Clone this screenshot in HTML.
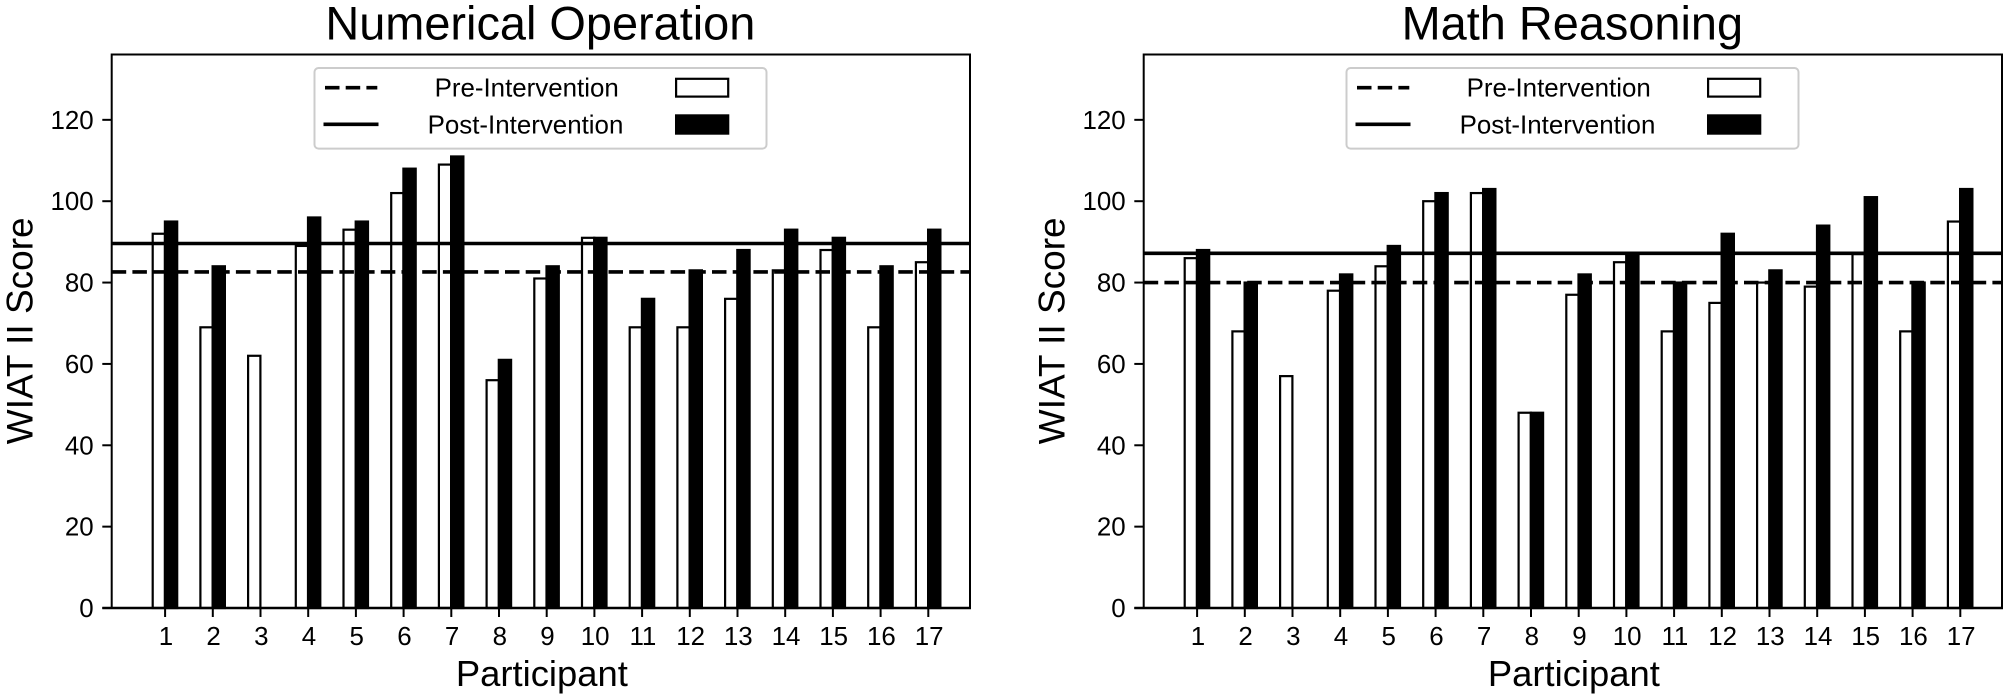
<!DOCTYPE html>
<html lang="en">
<head>
<meta charset="utf-8">
<title>WIAT II Scores: Numerical Operation and Math Reasoning</title>
<style>
html,body{margin:0;padding:0;background:#fff;}
body{width:2008px;height:698px;overflow:hidden;}
svg{display:block;}
text{font-family:"Liberation Sans",Arial,sans-serif;fill:#000;}
</style>
</head>
<body>
<svg id="chart" xmlns="http://www.w3.org/2000/svg" width="2008" height="698" viewBox="0 0 2008 698"></svg>
<script>
const categories = ["1","2","3","4","5","6","7","8","9","10","11","12","13","14","15","16","17"];
const yTickValues = [0,20,40,60,80,100,120];
const numericalPre = [92,69,62,89,93,102,109,56,81,91,69,69,76,83,88,69,85];
const numericalPost = [95,84,0,96,95,108,111,61,84,91,76,83,88,93,91,84,93];
const numericalMeanPre = 82.6;
const numericalMeanPost = 89.6;
const reasoningPre = [86,68,57,78,84,100,102,48,77,85,68,75,80,79,87,68,95];
const reasoningPost = [88,80,0,82,89,102,103,48,82,87,80,92,83,94,101,80,103];
const reasoningMeanPre = 80;
const reasoningMeanPost = 87.2;

const NS = "http://www.w3.org/2000/svg";
const root = document.getElementById("chart");
const AX_TOP = 54.5, AX_BOTTOM = 608, AX_W = 858.3;
const UNIT = 4.068, STEP = 47.7, BAR_W = 12.3;

function yScale(v){ return AX_BOTTOM - v * UNIT; }
function xScale(left, i){ return left + 53.4 + i * STEP; }

function mk(parent, tag, attrs, content){
  const el = document.createElementNS(NS, tag);
  for (const k in attrs) el.setAttribute(k, attrs[k]);
  if (content !== undefined) el.textContent = content;
  parent.appendChild(el);
  return el;
}

function drawPanel(slug, title, left, pre, post, meanPre, meanPost){
  const right = left + AX_W;
  const mid = left + AX_W / 2;
  const g = mk(root, "g", {});
  
  

  const titleEl = mk(g, "text", {x:mid-0.5, y:39.3, "text-anchor":"middle", "font-size":46.9}, title);
  
  

  categories.forEach(function(cat, i){
    const x = xScale(left, i);
    const preBar = mk(g, "rect", {x:x-BAR_W-0.1, y:yScale(pre[i]), width:BAR_W, height:AX_BOTTOM-yScale(pre[i]), fill:"#fff", stroke:"#000", "stroke-width":2.2});
    
    
    const postBar = mk(g, "rect", {x:x-0.2, y:yScale(post[i]), width:BAR_W, height:AX_BOTTOM-yScale(post[i]), fill:"#000", stroke:"#000", "stroke-width":2.2});
    
    
  });

  const preLine = mk(g, "line", {x1:left, x2:right, y1:yScale(meanPre), y2:yScale(meanPre), stroke:"#000", "stroke-width":3.6, "stroke-dasharray":"14.5 6.2"});
  
  
  const postLine = mk(g, "line", {x1:left, x2:right, y1:yScale(meanPost), y2:yScale(meanPost), stroke:"#000", "stroke-width":3.6});
  
  

  const frame = mk(g, "path", {d:"M"+left+" "+AX_BOTTOM+"V"+AX_TOP+"H"+right+"V"+AX_BOTTOM, fill:"none", stroke:"#000", "stroke-width":2});
  
  
  const baseline = mk(g, "line", {x1:left-9.4, x2:right+1, y1:AX_BOTTOM, y2:AX_BOTTOM, stroke:"#000", "stroke-width":2.4});
  
  

  yTickValues.forEach(function(v){
    const y = yScale(v);
    const tick = mk(g, "line", {x1:left-9.4, x2:left, y1:y, y2:y, stroke:"#000", "stroke-width":2});
    
    
    const lab = mk(g, "text", {x:left-18, y:y+9, "text-anchor":"end", "font-size":25.9}, String(v));
    
    
  });

  categories.forEach(function(cat, i){
    const x = xScale(left, i);
    const tick = mk(g, "line", {x1:x, x2:x, y1:AX_BOTTOM, y2:AX_BOTTOM+9, stroke:"#000", "stroke-width":2});
    
    
    const lab = mk(g, "text", {x:x+0.8, y:645, "text-anchor":"middle", "font-size":25.9}, cat);
    
    
  });

  const xt = mk(g, "text", {x:mid+1, y:686, "text-anchor":"middle", "font-size":36.4}, "Participant");
  
  
  const yx = left - 79.2;
  const yt = mk(g, "text", {x:yx, y:330.8, "text-anchor":"middle", "font-size":37, transform:"rotate(-90 "+yx+" 330.8)"}, "WIAT II Score");
  
  

  const lg = mk(g, "g", {});
  
  
  const box = mk(lg, "rect", {x:left+202.8, y:68, width:452, height:80.6, rx:4, fill:"#fff", stroke:"#ccc", "stroke-width":2});
  
  
  const l1 = mk(lg, "line", {x1:left+213.3, x2:left+265.6, y1:87.7, y2:87.7, stroke:"#000", "stroke-width":3.6, "stroke-dasharray":"14.5 6.2"});
  
  
  const t1 = mk(lg, "text", {x:left+415, y:96.7, "text-anchor":"middle", "font-size":25.9}, "Pre-Intervention");
  
  
  const p1 = mk(lg, "rect", {x:left+564.4, y:78.8, width:52.1, height:17.8, fill:"#fff", stroke:"#000", "stroke-width":2.2});
  
  
  const l2 = mk(lg, "line", {x1:left+211.8, x2:left+266.8, y1:124.3, y2:124.3, stroke:"#000", "stroke-width":3.6});
  
  
  const t2 = mk(lg, "text", {x:left+413.8, y:133.3, "text-anchor":"middle", "font-size":25.9}, "Post-Intervention");
  
  
  const p2 = mk(lg, "rect", {x:left+564.4, y:115.4, width:52.1, height:18.2, fill:"#000", stroke:"#000", "stroke-width":2.2});
  
  
}

drawPanel("numerical-operation", "Numerical Operation", 111.7, numericalPre, numericalPost, numericalMeanPre, numericalMeanPost);
drawPanel("math-reasoning", "Math Reasoning", 1143.7, reasoningPre, reasoningPost, reasoningMeanPre, reasoningMeanPost);
</script>
</body>
</html>
